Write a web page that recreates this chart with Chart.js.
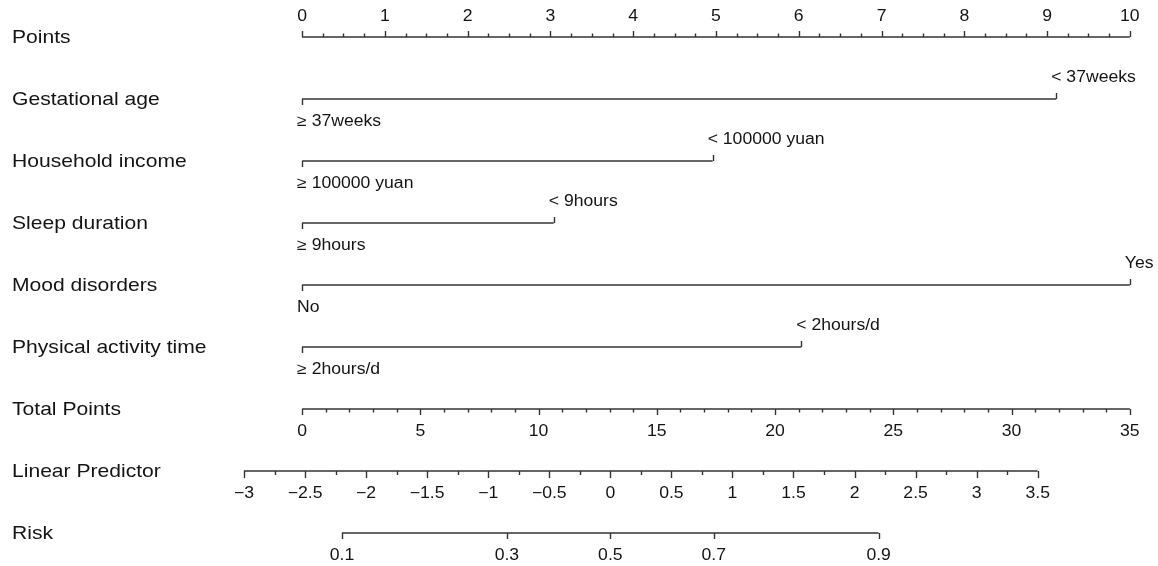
<!DOCTYPE html>
<html><head><meta charset="utf-8">
<script src="https://cdn.jsdelivr.net/npm/chart.js@4.4.1/dist/chart.umd.min.js"></script>
<style>html,body{margin:0;padding:0;background:#fff}#wrap{width:1158px;height:566px;position:relative}</style>
</head><body><div id="wrap"><canvas id="c"></canvas></div>
<script>
// ---------- data ----------
const variables = ['Gestational age', 'Household income', 'Sleep duration', 'Mood disorders', 'Physical activity time'];
const levelLow = ['\u2265 37weeks', '\u2265 100000 yuan', '\u2265 9hours', 'No', '\u2265 2hours/d'];
const levelHigh = ['< 37weeks', '< 100000 yuan', '< 9hours', 'Yes', '< 2hours/d'];
const pointsLow = [0, 0, 0, 0, 0];
const pointsHigh = [9.11, 4.96, 3.04, 10, 6.03];

const pointTicks = [0, 1, 2, 3, 4, 5, 6, 7, 8, 9, 10];
const totalTicks = [0, 5, 10, 15, 20, 25, 30, 35];
const lpTicks = [-3, -2.5, -2, -1.5, -1, -0.5, 0, 0.5, 1, 1.5, 2, 2.5, 3, 3.5];
const lpLabels = ['\u22123', '\u22122.5', '\u22122', '\u22121.5', '\u22121', '\u22120.5', '0', '0.5', '1', '1.5', '2', '2.5', '3', '3.5'];
const riskTicks = [0.1, 0.3, 0.5, 0.7, 0.9];
const riskLabels = ['0.1', '0.3', '0.5', '0.7', '0.9'];

// ---------- layout ----------
const ROW = {points: 37, vars: [99, 161, 223, 285, 347], total: 409, lp: 471, risk: 533};
const INK = '#333333', TXT = '#141414';
const FONT = '"Liberation Sans", Arial, Helvetica, sans-serif';
const LAB = {size: 18.5, sx: 1.14};
const TICK = {size: 16, sx: 1.1};
const logit = p => Math.log(p / (1 - p));

function seg(xAxisID, a, b, y) {
  return {type: 'line', xAxisID, yAxisID: 'y', data: [{x: a, y}, {x: b, y}],
    borderColor: INK, borderWidth: 1.6, pointRadius: 0, fill: false, tension: 0};
}
const datasets = [];
datasets.push(seg('x', pointTicks[0], pointTicks[pointTicks.length - 1], ROW.points));
variables.forEach((v, i) => datasets.push(seg('x', pointsLow[i], pointsHigh[i], ROW.vars[i])));
datasets.push(seg('xTot', totalTicks[0], totalTicks[totalTicks.length - 1], ROW.total));
datasets.push(seg('xLP', lpTicks[0], lpTicks[lpTicks.length - 1], ROW.lp));
datasets.push(seg('xLP', logit(riskTicks[0]), logit(riskTicks[riskTicks.length - 1]), ROW.risk));

function txt(ctx, s, x, y, f, align) {
  ctx.save();
  ctx.font = f.size + 'px ' + FONT;
  ctx.fillStyle = TXT;
  ctx.textBaseline = 'middle';
  ctx.textAlign = align;
  ctx.translate(x, y);
  ctx.scale(f.sx, 1);
  ctx.fillText(s, 0, 0);
  ctx.restore();
}
function tick(ctx, x, y, len) {
  ctx.beginPath();
  ctx.moveTo(Math.round(x) + 0.5, y);
  ctx.lineTo(Math.round(x) + 0.5, y + len);
  ctx.stroke();
}

const nomoPlugin = {
  id: 'nomo',
  afterDatasetsDraw(chart) {
    const ctx = chart.ctx;
    const sx = chart.scales.x, st = chart.scales.xTot, sl = chart.scales.xLP, sy = chart.scales.y;
    ctx.save();
    ctx.strokeStyle = INK;
    ctx.lineWidth = 1.4;
    const Y = v => sy.getPixelForValue(v);
    // row labels
    const rowNames = ['Points'].concat(variables, ['Total Points', 'Linear Predictor', 'Risk']);
    const rowYs = [ROW.points].concat(ROW.vars, [ROW.total, ROW.lp, ROW.risk]);
    rowNames.forEach((n, i) => txt(ctx, n, 12, Y(rowYs[i]) + 1, LAB, 'left'));

    // Points axis (ticks up)
    const yP = Y(ROW.points);
    for (let k = 0; k < pointTicks.length; k++) {
      const v = pointTicks[k];
      tick(ctx, sx.getPixelForValue(v), yP, -6);
      txt(ctx, String(v), sx.getPixelForValue(v), yP - 20, TICK, 'center');
      if (k < pointTicks.length - 1) {
        const step = (pointTicks[k + 1] - v) / 4;
        for (let m = 1; m < 4; m++) tick(ctx, sx.getPixelForValue(v + m * step), yP, -3.5);
      }
    }
    // variable rows
    variables.forEach((v, i) => {
      const y = Y(ROW.vars[i]);
      const x0 = sx.getPixelForValue(pointsLow[i]), x1 = sx.getPixelForValue(pointsHigh[i]);
      tick(ctx, x0, y, 6);
      tick(ctx, x1, y, -6);
      txt(ctx, levelLow[i], x0 - 5, y + 23, TICK, 'left');
      txt(ctx, levelHigh[i], x1 - 5, y - 21, TICK, 'left');
    });
    // Total points (ticks down)
    const yT = Y(ROW.total);
    for (let k = 0; k < totalTicks.length; k++) {
      const v = totalTicks[k];
      tick(ctx, st.getPixelForValue(v), yT, 6);
      txt(ctx, String(v), st.getPixelForValue(v), yT + 23, TICK, 'center');
      if (k < totalTicks.length - 1) {
        const step = (totalTicks[k + 1] - v) / 5;
        for (let m = 1; m < 5; m++) tick(ctx, st.getPixelForValue(v + m * step), yT, 3.5);
      }
    }
    // Linear predictor
    const yL = Y(ROW.lp);
    for (let k = 0; k < lpTicks.length; k++) {
      const v = lpTicks[k];
      tick(ctx, sl.getPixelForValue(v), yL, 7);
      txt(ctx, lpLabels[k], sl.getPixelForValue(v), yL + 23, TICK, 'center');
      if (k < lpTicks.length - 1) {
        tick(ctx, sl.getPixelForValue((v + lpTicks[k + 1]) / 2), yL, 4);
      }
    }
    // Risk
    const yR = Y(ROW.risk);
    riskTicks.forEach((r, k) => {
      const px = sl.getPixelForValue(logit(r));
      tick(ctx, px, yR, 6);
      txt(ctx, riskLabels[k], px, yR + 23, TICK, 'center');
    });
    ctx.restore();
  }
};

new Chart(document.getElementById('c'), {
  type: 'line',
  data: {datasets},
  options: {
    responsive: true, maintainAspectRatio: false, animation: false,
    layout: {padding: {left: 240, right: 24, top: 0, bottom: 0}},
    plugins: {legend: {display: false}, tooltip: {enabled: false}},
    scales: {
      x: {type: 'linear', min: -0.75, max: 10.05, display: false},
      xTot: {type: 'linear', min: -2.625, max: 35.175, display: false},
      xLP: {type: 'linear', min: -3.0328, max: 4.2886, display: false},
      y: {type: 'linear', min: 0, max: 566, reverse: true, display: false}
    }
  },
  plugins: [nomoPlugin]
});
</script></body></html>
